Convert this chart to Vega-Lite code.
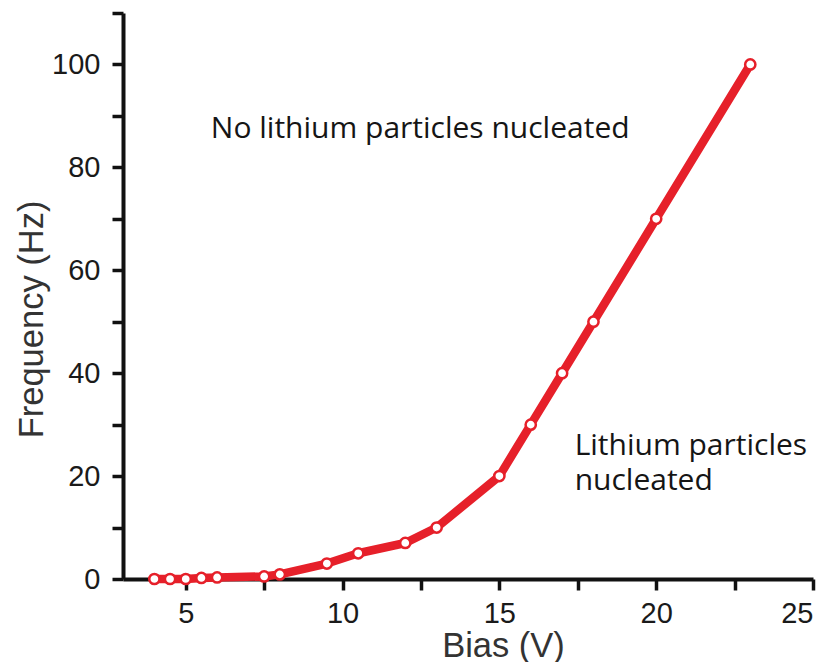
{
  "$schema": "https://vega.github.io/schema/vega-lite/v6.json",
  "width": 690,
  "height": 566,
  "autosize": {"type": "none"},
  "padding": {"left": 123, "top": 13, "right": 24, "bottom": 83},
  "background": "white",
  "config": {
    "view": {"stroke": null},
    "axis": {
      "grid": false,
      "domainColor": "#111111",
      "domainWidth": 4,
      "tickColor": "#111111",
      "tickWidth": 3.5,
      "tickSize": 11,
      "labelFont": "Liberation Sans",
      "labelFontSize": 29,
      "labelColor": "#1a1a1a",
      "titleFont": "Liberation Sans",
      "titleFontSize": 34.5,
      "titleFontWeight": "normal",
      "titleColor": "#333333"
    }
  },
  "datasets": {
    "curve": [
      {"bias": 4, "freq": 0},
      {"bias": 4.5, "freq": 0},
      {"bias": 5, "freq": 0},
      {"bias": 5.5, "freq": 0.2},
      {"bias": 6, "freq": 0.3},
      {"bias": 7.5, "freq": 0.5},
      {"bias": 8, "freq": 0.9},
      {"bias": 9.5, "freq": 3},
      {"bias": 10.5, "freq": 5},
      {"bias": 12, "freq": 7},
      {"bias": 13, "freq": 10},
      {"bias": 15, "freq": 20},
      {"bias": 16, "freq": 30},
      {"bias": 17, "freq": 40},
      {"bias": 18, "freq": 50},
      {"bias": 20, "freq": 70},
      {"bias": 23, "freq": 100}
    ],
    "notes": [
      {"bias": 5.8, "freq": 85.7, "note": "No lithium particles nucleated"},
      {"bias": 17.4, "freq": 24.1, "note": "Lithium particles\nnucleated"}
    ]
  },
  "layer": [
    {
      "data": {"name": "curve"},
      "mark": {"type": "line", "color": "#e6202a", "strokeWidth": 8.5, "strokeJoin": "round", "strokeCap": "round"},
      "encoding": {
        "x": {
          "field": "bias",
          "type": "quantitative",
          "title": "Bias (V)",
          "scale": {"domain": [3, 25], "nice": false, "zero": false},
          "axis": {
            "values": [5, 7.5, 10, 12.5, 15, 17.5, 20, 22.5, 25],
            "labelExpr": "datum.value % 5 === 0 ? datum.label : ''",
            "labelPadding": 9,
            "titleX": 380,
            "titleY": 77,
            "titleBaseline": "alphabetic",
            "titleAnchor": null,
            "titleAlign": "center"
          }
        },
        "y": {
          "field": "freq",
          "type": "quantitative",
          "title": "Frequency (Hz)",
          "scale": {"domain": [0, 110], "nice": false},
          "axis": {
            "values": [0, 10, 20, 30, 40, 50, 60, 70, 80, 90, 100, 110],
            "labelExpr": "datum.value % 20 === 0 && datum.value <= 100 ? datum.label : ''",
            "labelPadding": 12,
            "titleAngle": -90,
            "titleX": -81,
            "titleY": 306,
            "titleBaseline": "alphabetic",
            "titleAlign": "center"
          }
        }
      }
    },
    {
      "data": {"name": "curve"},
      "mark": {"type": "point", "shape": "circle", "filled": true, "fill": "white", "stroke": "#e6202a", "strokeWidth": 2.5, "size": 105, "opacity": 1},
      "encoding": {
        "x": {"field": "bias", "type": "quantitative"},
        "y": {"field": "freq", "type": "quantitative"}
      }
    },
    {
      "data": {"name": "notes"},
      "mark": {"type": "text", "align": "left", "baseline": "alphabetic", "font": "Open Sans", "fontSize": 30, "lineHeight": 35, "lineBreak": "\n", "color": "#151515"},
      "encoding": {
        "x": {"field": "bias", "type": "quantitative"},
        "y": {"field": "freq", "type": "quantitative"},
        "text": {"field": "note"}
      }
    }
  ]
}
